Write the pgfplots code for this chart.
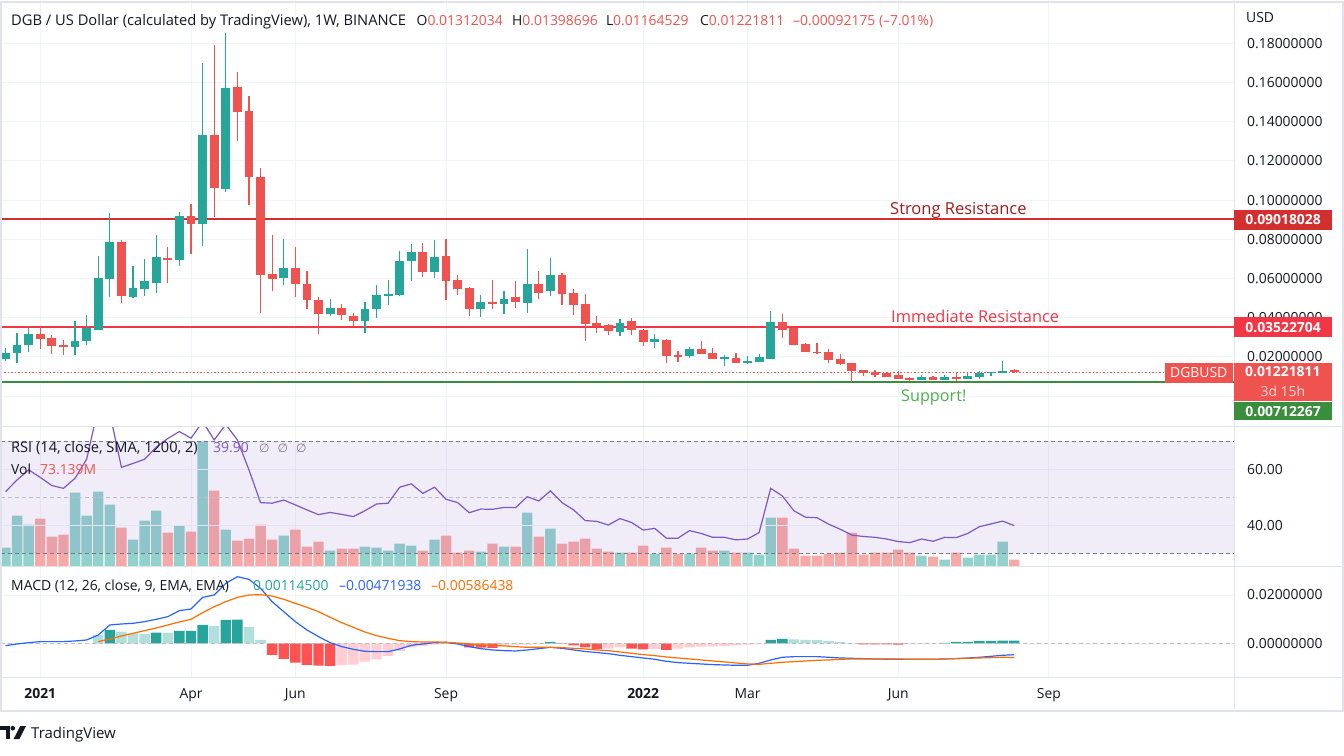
\documentclass[border=0pt]{standalone}
\usepackage{pgfplots}
\pgfplotsset{compat=1.18}
\usepackage{pgfplotstable}
\usepackage{fontspec}
\setmainfont{Open Sans}
\newfontfamily\symfont{DejaVu Sans}

\definecolor{tvup}{RGB}{38,166,154}
\definecolor{tvdn}{RGB}{239,83,80}
\definecolor{volup}{RGB}{146,210,204}
\definecolor{voldn}{RGB}{247,169,167}
\definecolor{txt}{RGB}{19,23,34}
\definecolor{gridc}{RGB}{240,243,250}
\definecolor{sepc}{RGB}{224,227,235}
\definecolor{strong}{RGB}{211,47,47}
\definecolor{strongtxt}{RGB}{160,28,28}
\definecolor{immed}{RGB}{242,54,69}
\definecolor{supp}{RGB}{56,142,60}
\definecolor{supptxt}{RGB}{76,175,80}
\definecolor{rsic}{RGB}{126,87,194}
\definecolor{dashc}{RGB}{120,123,134}
\definecolor{dashl}{RGB}{188,190,196}
\definecolor{macdc}{RGB}{41,98,255}
\definecolor{sigc}{RGB}{255,109,0}
\definecolor{hupl}{RGB}{178,223,219}
\definecolor{hdn}{RGB}{255,82,82}
\definecolor{hdnl}{RGB}{255,205,210}

\newcommand{\fs}[1]{\fontsize{#1}{#1}\selectfont}

% weekly candles DGB/USD, index 0 = week of 14 Dec 2020; vol in millions
\pgfplotstableread{
i o h l c vol
0 0.0191 0.0244 0.0181 0.0219 213
1 0.0217 0.0323 0.0166 0.0262 584
2 0.0258 0.0350 0.0227 0.0318 479
3 0.0318 0.0350 0.0238 0.0289 549
4 0.0297 0.0313 0.0212 0.0253 340
5 0.0262 0.0285 0.0207 0.0248 364
6 0.0248 0.0385 0.0207 0.0282 851
7 0.0279 0.0415 0.0258 0.0345 584
8 0.0338 0.0713 0.0335 0.0600 862
9 0.0597 0.0933 0.0503 0.0785 711
10 0.0785 0.0795 0.0474 0.0508 445
11 0.0504 0.0662 0.0499 0.0549 305
12 0.0545 0.0697 0.0508 0.0585 526
13 0.0576 0.0821 0.0525 0.0708 642
14 0.0703 0.0759 0.0576 0.0694 387
15 0.0694 0.0938 0.0663 0.0918 468
16 0.0918 0.0979 0.0725 0.0879 398
17 0.0879 0.1697 0.0766 0.1333 1446
18 0.1333 0.1790 0.0915 0.1063 874
19 0.1058 0.1851 0.1043 0.1574 422
20 0.1579 0.1655 0.1299 0.1448 294
21 0.1456 0.1532 0.0976 0.1120 317
22 0.1118 0.1164 0.0422 0.0617 479
23 0.0621 0.0821 0.0535 0.0597 305
24 0.0602 0.0800 0.0566 0.0651 352
25 0.0651 0.0759 0.0504 0.0571 422
26 0.0574 0.0636 0.0443 0.0489 224
27 0.0492 0.0504 0.0315 0.0417 282
28 0.0417 0.0497 0.0407 0.0451 178
29 0.0451 0.0472 0.0390 0.0412 201
30 0.0410 0.0426 0.0356 0.0381 201
31 0.0381 0.0482 0.0320 0.0446 224
32 0.0443 0.0564 0.0397 0.0513 213
33 0.0509 0.0590 0.0463 0.0523 178
34 0.0513 0.0738 0.0509 0.0687 259
35 0.0689 0.0774 0.0586 0.0733 236
36 0.0733 0.0779 0.0607 0.0632 178
37 0.0632 0.0795 0.0603 0.0708 305
38 0.0713 0.0800 0.0489 0.0586 352
39 0.0590 0.0615 0.0518 0.0545 155
40 0.0549 0.0554 0.0410 0.0443 178
41 0.0443 0.0518 0.0405 0.0482 166
42 0.0482 0.0590 0.0446 0.0472 259
43 0.0472 0.0538 0.0421 0.0497 224
44 0.0503 0.0585 0.0451 0.0482 224
45 0.0477 0.0749 0.0426 0.0574 619
46 0.0574 0.0636 0.0497 0.0528 340
47 0.0538 0.0703 0.0508 0.0615 433
48 0.0615 0.0626 0.0462 0.0523 259
49 0.0528 0.0544 0.0415 0.0462 282
50 0.0467 0.0523 0.0282 0.0369 317
51 0.0374 0.0410 0.0323 0.0359 201
52 0.0364 0.0369 0.0313 0.0333 166
53 0.0328 0.0395 0.0308 0.0374 155
54 0.0385 0.0400 0.0313 0.0338 155
55 0.0338 0.0344 0.0256 0.0277 236
56 0.0277 0.0318 0.0246 0.0292 143
57 0.0287 0.0292 0.0169 0.0205 213
58 0.0210 0.0231 0.0174 0.0200 143
59 0.0205 0.0251 0.0195 0.0241 143
60 0.0241 0.0282 0.0215 0.0215 213
61 0.0221 0.0246 0.0190 0.0190 178
62 0.0190 0.0210 0.0154 0.0200 178
63 0.0195 0.0221 0.0169 0.0169 155
64 0.0169 0.0205 0.0164 0.0179 155
65 0.0174 0.0215 0.0174 0.0200 131
66 0.0190 0.0436 0.0190 0.0379 561
67 0.0379 0.0421 0.0297 0.0338 561
68 0.0349 0.0354 0.0262 0.0262 201
69 0.0267 0.0272 0.0226 0.0226 120
70 0.0226 0.0272 0.0215 0.0221 120
71 0.0226 0.0241 0.0169 0.0185 143
72 0.0190 0.0215 0.0159 0.0164 155
73 0.0169 0.0169 0.0072 0.0130 387
74 0.0133 0.0133 0.0104 0.0118 131
75 0.0123 0.0133 0.0099 0.0108 155
76 0.0115 0.0123 0.0096 0.0099 155
77 0.0108 0.0128 0.0089 0.0089 190
78 0.0092 0.0096 0.0079 0.0084 155
79 0.0084 0.0108 0.0084 0.0097 120
80 0.0097 0.0103 0.0084 0.0084 108
81 0.0084 0.0108 0.0084 0.0097 73
82 0.0097 0.0115 0.0079 0.0089 155
83 0.0089 0.0115 0.0089 0.0103 97
84 0.0099 0.0128 0.0089 0.0118 131
85 0.0115 0.0123 0.0104 0.0120 131
86 0.0115 0.0179 0.0115 0.0128 282
87 0.01312034 0.01398696 0.01164529 0.01221811 73.139
}\candles

\pgfplotstableread{
i r
0 52.0
1 56.2
2 59.8
3 57.1
4 54.2
5 53.2
6 56.8
7 63.6
8 82
9 80
10 60.7
11 62.1
12 63.6
13 67.9
14 71.0
15 73.5
16 71.1
17 77
18 70.5
19 76
20 70.5
21 59.8
22 48.1
23 47.9
24 49.0
25 47.3
26 45.5
27 43.8
28 44.6
29 43.9
30 43.1
31 45.2
32 47.6
33 47.9
34 53.6
35 54.8
36 51.4
37 53.6
38 49.3
39 48.1
40 44.5
41 45.8
42 45.7
43 46.4
44 46.3
45 50.2
46 48.7
47 52.3
48 48.1
49 45.5
50 41.7
51 41.4
52 40.1
53 42.4
54 41.0
55 38.3
56 38.9
57 35.4
58 35.4
59 38.1
60 37.1
61 35.7
62 35.7
63 34.8
64 35.1
65 37.4
66 53.2
67 50.5
68 45.2
69 42.9
70 42.7
71 40.4
72 38.6
73 36.5
74 36.0
75 35.7
76 35.1
77 34.2
78 33.8
79 35.1
80 34.3
81 35.7
82 35.6
83 37.1
84 39.5
85 40.5
86 41.5
87 39.9
}\rsi

\pgfplotstableread{
i m
0 -0.00097
1 -0.00028
2 0.00028
3 0.00069
4 0.00069
5 0.00069
6 0.00097
7 0.00138
8 0.00345
9 0.00759
10 0.0080
11 0.00828
12 0.00897
13 0.00993
14 0.01103
15 0.01352
16 0.01421
17 0.01903
18 0.0200
19 0.02483
20 0.02759
21 0.02648
22 0.02276
23 0.01724
24 0.0131
25 0.00897
26 0.00552
27 0.00276
28 0.00028
29 -0.00138
30 -0.00248
31 -0.00331
32 -0.00345
33 -0.00345
34 -0.00234
35 -0.00083
36 -0.00028
37 0.00028
38 0.00041
39 -0.00028
40 -0.00138
41 -0.00221
42 -0.00276
43 -0.00303
44 -0.00317
45 -0.00276
46 -0.00221
47 -0.00166
48 -0.00207
49 -0.00276
50 -0.0034
51 -0.0038
52 -0.00428
53 -0.00497
54 -0.00552
55 -0.00607
56 -0.00662
57 -0.00745
58 -0.0080
59 -0.00828
60 -0.00855
61 -0.00883
62 -0.00897
63 -0.0091
64 -0.0091
65 -0.00828
66 -0.0069
67 -0.00579
68 -0.00552
69 -0.00552
70 -0.00552
71 -0.00579
72 -0.00607
73 -0.00621
74 -0.00634
75 -0.00648
76 -0.00662
77 -0.00662
78 -0.00662
79 -0.00662
80 -0.00662
81 -0.00648
82 -0.00634
83 -0.00607
84 -0.00579
85 -0.00538
86 -0.00497
87 -0.00471938
}\macd

% signal line, histogram, histogram class (0 up, 1 up fading, 2 down, 3 down fading)
\pgfplotstableread{
i s h hc
8 0.00069 0.00345 1
9 0.00179 0.00552 0
10 0.00303 0.00483 1
11 0.00414 0.00414 1
12 0.00524 0.00386 1
13 0.00634 0.00441 0
14 0.00759 0.00428 1
15 0.00883 0.0051 0
16 0.00993 0.00517 0
17 0.01269 0.00759 0
18 0.01517 0.00717 1
19 0.01724 0.00966 0
20 0.01903 0.0098 0
21 0.0200 0.00676 1
22 0.02014 0.00138 1
23 0.01959 -0.00483 2
24 0.01821 -0.00648 2
25 0.01655 -0.0080 2
26 0.0149 -0.00897 2
27 0.0131 -0.00924 2
28 0.01076 -0.00938 2
29 0.00855 -0.00897 3
30 0.00662 -0.00883 3
31 0.00469 -0.00759 3
32 0.00317 -0.00662 3
33 0.00207 -0.00524 3
34 0.0011 -0.00317 3
35 0.00069 -0.00166 3
36 0.00055 -0.0011 3
37 0.00055 -0.00055 3
38 0.00041 0.00014 0
39 0.00014 -0.00028 2
40 -0.00028 -0.00166 2
41 -0.00055 -0.0018 2
42 -0.00083 -0.00193 2
43 -0.0011 -0.0011 3
44 -0.00138 -0.00055 3
45 -0.00166 -0.0005 3
46 -0.00166 -0.00028 3
47 -0.00166 0.00055 0
48 -0.00179 -0.00028 2
49 -0.00207 -0.00083 2
50 -0.00234 -0.00166 2
51 -0.00276 -0.00234 2
52 -0.00303 -0.0022 3
53 -0.00359 -0.00166 3
54 -0.00414 -0.0022 2
55 -0.00469 -0.00248 2
56 -0.0051 -0.0024 3
57 -0.00566 -0.00276 2
58 -0.00607 -0.0022 3
59 -0.00648 -0.00166 3
60 -0.0069 -0.00138 3
61 -0.00731 -0.00124 3
62 -0.00772 -0.0011 3
63 -0.00814 -0.00083 3
64 -0.00855 -0.00055 3
65 -0.00869 -0.00014 3
66 -0.00828 0.00138 0
67 -0.00786 0.00179 0
68 -0.00759 0.00166 1
69 -0.00731 0.00138 1
70 -0.00703 0.00131 1
71 -0.0069 0.00097 1
72 -0.00662 0.00055 1
73 -0.00648 0.00014 1
74 -0.00648 -0.00041 2
75 -0.00648 -0.00045 2
76 -0.00648 -0.00048 2
77 -0.00648 -0.0005 2
78 -0.00662 -0.00028 3
79 -0.00662 -0.00025 3
80 -0.00662 -0.00014 3
81 -0.00648 0.00014 0
82 -0.00634 0.00055 0
83 -0.00621 0.00058 0
84 -0.00607 0.00097 0
85 -0.00593 0.0010 0
86 -0.00579 0.0011 0
87 -0.00586438 0.001145 0
}\signal

\pgfplotsset{
  pane/.style={
    anchor=north west, scale only axis, width=1234pt,
    xmin=-0.4744, xmax=105.96,
    axis line style={draw=none}, tick style={draw=none}, major tick length=0pt,
    scaled x ticks=false, scaled y ticks=false,
    xtick={3,16,25,38,55,64,77,90}, xticklabels={},
    major grid style={draw=gridc, line width=1pt},
    yticklabel pos=right,
    yticklabel style={anchor=west, inner sep=0pt, xshift=13pt, font=\fs{13.9}, text=txt},
  },
}

\begin{document}
\begin{tikzpicture}
\path[use as bounding box, fill=white] (0pt,0pt) rectangle (1344pt,-755pt);

% ---- price pane
\begin{axis}[pane, at={(0pt,0pt)}, height=426pt,
  ymin=-0.01531, ymax=0.2021, grid=major,
  ytick={0,0.02,0.04,0.06,0.08,0.10,0.12,0.14,0.16,0.18},
  yticklabels={{},0.02000000,0.04000000,0.06000000,0.08000000,0.10000000,0.12000000,0.14000000,0.16000000,0.18000000},
]
\addplot[strong, line width=2pt, forget plot] coordinates {(-1,0.09018028) (107,0.09018028)};
\addplot[immed, line width=2pt, forget plot] coordinates {(-1,0.03522704) (107,0.03522704)};
\addplot[supp, line width=2pt, forget plot] coordinates {(-1,0.00712267) (107,0.00712267)};
\addplot[tvdn, line width=1.1pt, dash pattern=on 1.3pt off 2.2pt, forget plot] coordinates {(-1,0.01221811) (99.92,0.01221811)};
% wicks
\addplot[draw=none, mark=none, forget plot, error bars/.cd, y dir=plus, y explicit, error mark=none,
  error bar style={draw=tvup, line width=1.2pt}]
  table[x=i, y expr={\thisrow{c}>=\thisrow{o} ? \thisrow{l} : nan}, y error plus expr={\thisrow{h}-\thisrow{l}}] {\candles};
\addplot[draw=none, mark=none, forget plot, error bars/.cd, y dir=plus, y explicit, error mark=none,
  error bar style={draw=tvdn, line width=1.2pt}]
  table[x=i, y expr={\thisrow{c}<\thisrow{o} ? \thisrow{l} : nan}, y error plus expr={\thisrow{h}-\thisrow{l}}] {\candles};
% bodies
\addplot[draw=none, mark=none, forget plot, error bars/.cd, y dir=plus, y explicit, error mark=none,
  error bar style={draw=tvup, line width=8.8pt}]
  table[x=i, y expr={\thisrow{c}>=\thisrow{o} ? \thisrow{o} : nan}, y error plus expr={\thisrow{c}-\thisrow{o}}] {\candles};
\addplot[draw=none, mark=none, forget plot, error bars/.cd, y dir=plus, y explicit, error mark=none,
  error bar style={draw=tvdn, line width=8.8pt}]
  table[x=i, y expr={\thisrow{c}<\thisrow{o} ? \thisrow{c} : nan}, y error plus expr={\thisrow{o}-\thisrow{c}}] {\candles};
\end{axis}

% ---- volume (under RSI)
\begin{axis}[pane, at={(0pt,-427pt)}, height=139pt,
  ymin=0, ymax=1612, ytick=\empty, xmajorgrids]
\addplot[ybar, bar width=10.4pt, bar shift=0pt, fill=volup, draw=none]
  table[x=i, y expr={\thisrow{c}>=\thisrow{o} ? \thisrow{vol} : nan}] {\candles};
\addplot[ybar, bar width=10.4pt, bar shift=0pt, fill=voldn, draw=none]
  table[x=i, y expr={\thisrow{c}<\thisrow{o} ? \thisrow{vol} : nan}] {\candles};
\end{axis}

% ---- RSI
\begin{axis}[pane, at={(0pt,-427pt)}, height=139pt,
  ymin=25.46, ymax=75.11, ytick={40,60}, yticklabels={40.00,60.00}, ymajorgrids]
\fill[rsic, fill opacity=0.1] (axis cs:-1,30) rectangle (axis cs:107,70);
\addplot[dashc, line width=1pt, dash pattern=on 4pt off 3pt, forget plot] coordinates {(-1,70) (107,70)};
\addplot[dashl, line width=1pt, dash pattern=on 4pt off 3pt, forget plot] coordinates {(-1,50) (107,50)};
\addplot[dashc, line width=1pt, dash pattern=on 4pt off 3pt, forget plot] coordinates {(-1,30) (107,30)};
\addplot[rsic, line width=1.2pt, mark=none] table[x=i, y=r] {\rsi};
\end{axis}

% ---- MACD
\begin{axis}[pane, at={(0pt,-566pt)}, height=111pt,
  ymin=-0.013955, ymax=0.03201, grid=major,
  ytick={0,0.02}, yticklabels={0.00000000,0.02000000},
  xticklabels={\textbf{2021},Apr,Jun,Sep,\textbf{2022},Mar,Jun,Sep},
  xticklabel style={anchor=base, inner sep=0pt, yshift=-21pt, font=\fs{13.9}, text=txt},
]
\addplot[ybar, bar width=10.4pt, bar shift=0pt, fill=tvup, draw=none]
  table[x=i, y expr={\thisrow{hc}==0 ? \thisrow{h} : nan}] {\signal};
\addplot[ybar, bar width=10.4pt, bar shift=0pt, fill=hupl, draw=none]
  table[x=i, y expr={\thisrow{hc}==1 ? \thisrow{h} : nan}] {\signal};
\addplot[ybar, bar width=10.4pt, bar shift=0pt, fill=hdn, draw=none]
  table[x=i, y expr={\thisrow{hc}==2 ? \thisrow{h} : nan}] {\signal};
\addplot[ybar, bar width=10.4pt, bar shift=0pt, fill=hdnl, draw=none]
  table[x=i, y expr={\thisrow{hc}==3 ? \thisrow{h} : nan}] {\signal};
\addplot[dashl, line width=1pt, dash pattern=on 4pt off 3pt, forget plot] coordinates {(-1,0) (107,0)};
\addplot[macdc, line width=1.2pt, mark=none] table[x=i, y=m] {\macd};
\addplot[sigc, line width=1.2pt, mark=none] table[x=i, y=s] {\signal};
\end{axis}

% ---- frame and separators
\draw[sepc, line width=1pt] (0pt,-426.5pt) -- (1344pt,-426.5pt);
\draw[sepc, line width=1pt] (0pt,-566pt) -- (1344pt,-566pt);
\draw[sepc, line width=1pt] (0pt,-677pt) -- (1344pt,-677pt);
\draw[sepc, line width=1pt] (1234pt,0pt) -- (1234pt,-709pt);
\draw[sepc, line width=2pt] (1pt,-1.5pt) -- (1343pt,-1.5pt) -- (1343pt,-710.5pt) -- (1pt,-710.5pt) -- cycle;

% ---- header
\begin{scope}[every node/.style={anchor=base west, inner sep=0pt, font=\fs{13.9}, text=txt}]
\node[font=\fs{14.7}] at (11pt,-25pt) {DGB / US Dollar (calculated by TradingView), 1W, BINANCE};
\node at (416.5pt,-25pt) {O\textcolor{tvdn}{0.01312034}};
\node at (512pt,-25pt) {H\textcolor{tvdn}{0.01398696}};
\node at (605.8pt,-25pt) {L\textcolor{tvdn}{0.01164529}};
\node at (700pt,-25pt) {C\textcolor{tvdn}{0.01221811}};
\node[text=tvdn] at (793pt,-25pt) {–0.00092175 (–7.01\%)};
\node at (1246pt,-22pt) {USD};
% RSI / volume legend
\node[font=\fs{14.6}] at (11pt,-452pt) {RSI (14, close, SMA, 1200, 2)};
\node[text=rsic] at (213pt,-452pt) {39.90};
\node[text=dashc] at (259pt,-452pt) {{\symfont\fs{12}∅}\hspace{8pt}{\symfont\fs{12}∅}\hspace{8pt}{\symfont\fs{12}∅}};
\node at (11pt,-474pt) {Vol};
\node[text=tvdn] at (40pt,-474pt) {73.139M};
% MACD legend
\node at (11pt,-590pt) {MACD (12, 26, close, 9, EMA, EMA)};
\node[text=tvup] at (253pt,-590pt) {0.00114500};
\node[text=macdc] at (339pt,-590pt) {–0.00471938};
\node[text=sigc] at (431pt,-590pt) {–0.00586438};
\end{scope}

% ---- level annotations
\node[anchor=base west, inner sep=0pt, font=\fs{16.5}, text=strongtxt] at (890pt,-214pt) {Strong Resistance};
\node[anchor=base west, inner sep=0pt, font=\fs{16.4}, text=immed] at (891pt,-322pt) {Immediate Resistance};
\node[anchor=base west, inner sep=0pt, font=\fs{16.2}, text=supptxt] at (901pt,-401.5pt) {Support!};

% ---- price scale labels
\begin{scope}[every node/.style={anchor=north west, inner sep=0pt, text=white, font=\fs{13.9}\bfseries, align=center}]
\node[fill=strong, minimum width=97.7pt, minimum height=20pt] at (1234pt,-209.3pt) {0.09018028};
\node[fill=immed, minimum width=97.7pt, minimum height=20pt] at (1234pt,-317pt) {0.03522704};
\node[fill=tvdn, minimum width=68.4pt, minimum height=19.6pt, font=\fs{13.9}] at (1164.3pt,-362.7pt) {DGBUSD};
\node[fill=tvdn, minimum width=97.7pt, minimum height=38.4pt] at (1234pt,-362.3pt) {};
\node[fill=supp, minimum width=97.7pt, minimum height=18.3pt] at (1234pt,-401.7pt) {0.00712267};
\end{scope}
\node[anchor=center, inner sep=0pt, text=white, font=\fs{13.9}\bfseries] at (1282.8pt,-372pt) {0.01221811};
\node[anchor=center, inner sep=0pt, text={rgb,255:red,253;green,215;blue,214}, font=\fs{13.9}] at (1282.8pt,-391pt) {3d 15h};

% ---- footer logo
\fill[txt] (0pt,-726pt) rectangle (10.3pt,-730.2pt);
\fill[txt] (6.2pt,-726pt) rectangle (10.3pt,-739pt);
\fill[txt] (12.8pt,-728.2pt) circle (2.3pt);
\fill[txt] (13.6pt,-739pt) -- (19.4pt,-739pt) -- (26pt,-726pt) -- (20.2pt,-726pt) -- cycle;
\node[anchor=base west, inner sep=0pt, font=\fs{15}, text=txt] at (31pt,-738.5pt) {TradingView};
\end{tikzpicture}
\end{document}
